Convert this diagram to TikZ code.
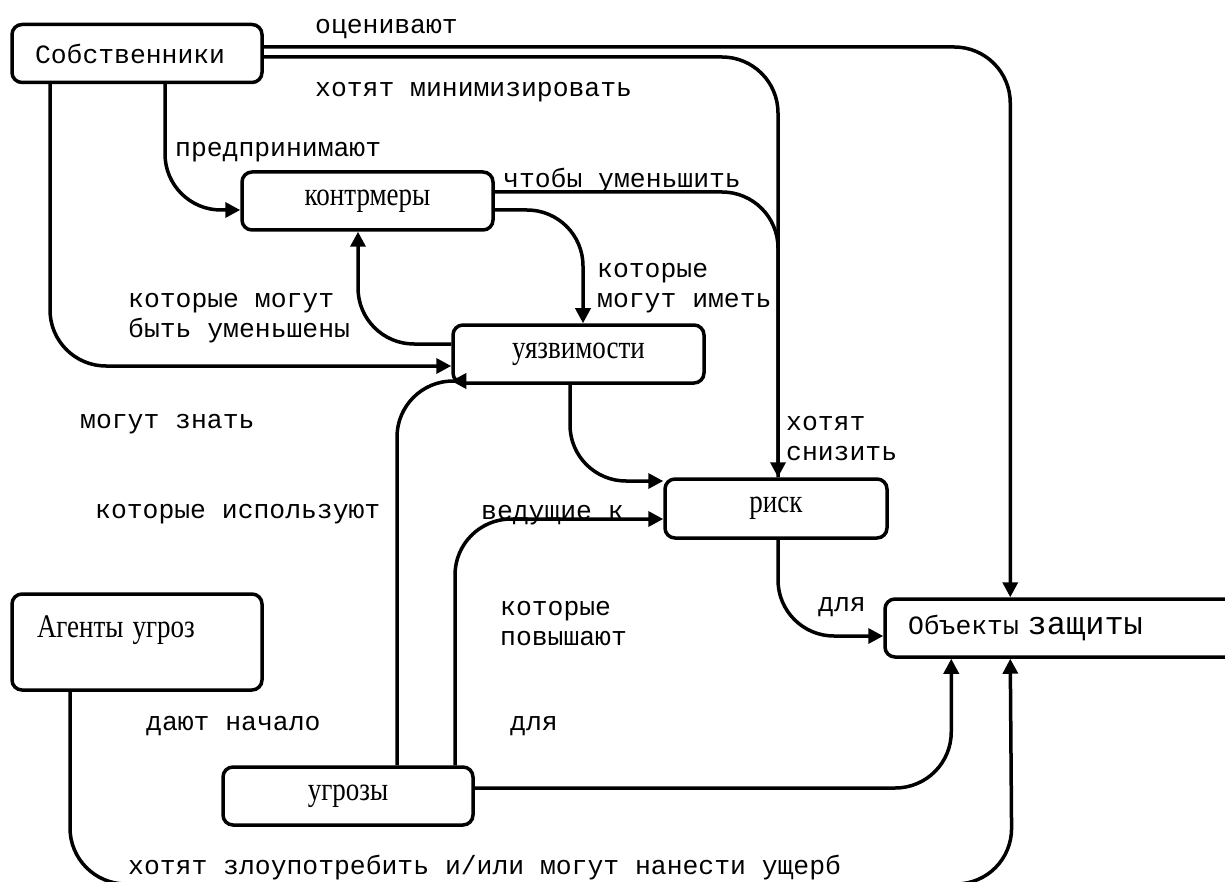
\documentclass[tikz,border=0pt]{standalone}
\usepackage{fontspec}
\usepackage{graphicx}
\setmainfont{Liberation Serif}
\newfontfamily\mono{Liberation Mono}
\usetikzlibrary{arrows.meta}

\newcommand{\tall}[1]{\scalebox{1}[1.22]{#1}}

\tikzset{
	box/.style={draw, line width=3.5pt, rounded corners=10pt, inner sep=0pt, minimum width=250pt, minimum height=58pt, font=\fontsize{27}{30}\selectfont},
	link/.style={line width=3.5pt, rounded corners=56pt},
	flow/.style={link, -{Triangle[length=15pt,width=15pt]}},
	lbl/.style={anchor=west, align=left, inner sep=0pt, yshift=-4pt, font=\mono\fontsize{26.4}{30}\selectfont},
}

\begin{document}
\begin{tikzpicture}[x=1pt, y=-1pt]
		\useasboundingbox (0,0) rectangle (1225,882);
		% \draw[help lines, step=50] (0,0) grid (1225,882);

		\node[box, text width=204pt, inner xsep=23pt, align=left, font=\mono\fontsize{26.4}{30}\selectfont] (owners) at (137,53.5) {Собственники};
		\node[box, minimum width=251pt] (counter) at (367.5,201) {\tall{контрмеры}};
		\node[box, minimum width=251pt] (vuln) at (578.5,354) {\tall{уязвимости}};
		\node[box, minimum width=222pt, minimum height=59pt] (risk) at (776,508.5) {\tall{риск}};
		\node[box, text width=309pt, inner xsep=23pt, align=left, font=\mono\fontsize{26.4}{30}\selectfont] (assets) at (1062.5,628) {Объекты {\fontsize{32}{30}\selectfont защиты}};
		\node[box, text width=200pt, inner xsep=25pt, align=left, minimum height=96pt] (agents) at (137,642) {\tall{Агенты угроз}\\\mbox{}};
		\node[box] (threats) at (348,796) {\tall{угрозы}};
		\coordinate (bend) at (1012,884);

		\draw[flow] ([yshift=6.5pt]owners.east) -| ([xshift=127pt]assets.north west);
		\draw[flow] ([yshift=-3.5pt]owners.east) -| ([xshift=2pt]risk.north);
		\draw[link] ([yshift=9pt]counter.east) -| ([xshift=2pt]risk.north);
		\draw[flow] ([yshift=-9pt]counter.east) -| ([xshift=4.5pt]vuln.north);
		\draw[flow] ([xshift=28pt]owners.south) |- ([yshift=-9pt]counter.west);
		\draw[flow] ([xshift=-87pt]owners.south) |- ([yshift=-12pt]vuln.west);
		\draw[flow] ([yshift=10pt]vuln.west) -| ([xshift=-9.5pt]counter.south);
		\draw[flow] ([xshift=49pt]threats.north) |- ([yshift=-27pt]vuln.west);
		\draw[flow] ([xshift=107pt]threats.north) |- ([yshift=-10.5pt]risk.west);
		\draw[flow] ([xshift=-8.5pt]vuln.south) |- ([yshift=27.5pt]risk.west);
		\draw[flow] ([xshift=2pt]risk.south) |- ([yshift=-8pt]assets.west);
		\draw[flow] ([yshift=8pt]threats.east) -| ([xshift=68pt]assets.south west);
		\draw[flow] ([xshift=-67pt]agents.south) |- (bend) -- ([xshift=127pt]assets.south west);

		\node[lbl] (l1) at (315,25) {оценивают};
		\node[lbl] (l2) at (315,88) {хотят минимизировать};
		\node[lbl] (l3) at (175,148) {предпринимают};
		\node[lbl] (l4) at (503,177) {чтобы уменьшить};
		\node[lbl] (l5) at (597,284) {которые\\могут иметь};
		\node[lbl] (l6) at (128,314) {которые могут\\быть уменьшены};
		\node[lbl] (l7) at (80,420) {могут знать};
		\node[lbl] (l8) at (786,435) {хотят\\снизить};
		\node[lbl] (l9) at (95,510) {которые используют};
		\node[lbl] (l10) at (481,511) {ведущие к};
		\node[lbl] (l11) at (500,620) {которые\\повышают};
		\node[lbl] (l12) at (818,603) {для};
		\node[lbl] (l13) at (146,722) {дают начало};
		\node[lbl] (l14) at (510,722) {для};
		\node[lbl] (l15) at (128,864) {хотят злоупотребить и/или могут нанести ущерб};
\end{tikzpicture}
\end{document}
